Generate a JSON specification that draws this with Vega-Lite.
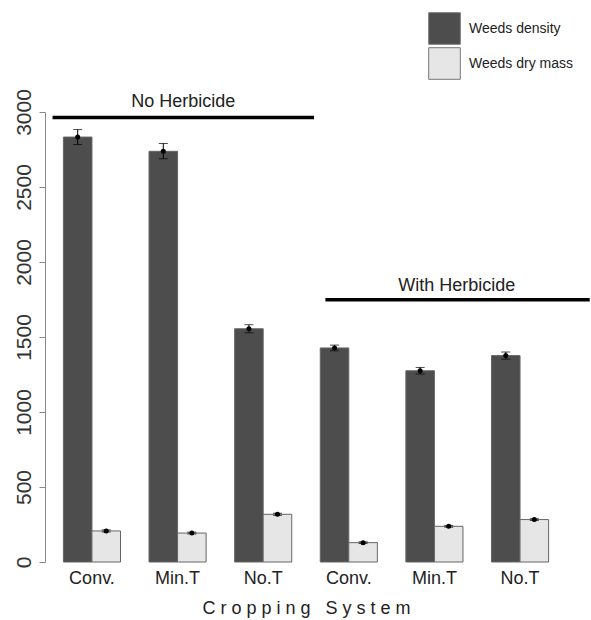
{
  "$schema": "https://vega.github.io/schema/vega-lite/v6.json",
  "width": 522,
  "height": 450,
  "autosize": {"type": "none"},
  "padding": {"left": 45, "top": 112, "right": 24, "bottom": 58},
  "config": {"view": {"stroke": null}, "font": "Liberation Sans"},
  "datasets": {
    "bars": [
      {"group": "No Herbicide: Conv.", "measure": "Weeds density", "value": 2833, "lo": 2783, "hi": 2883},
      {"group": "No Herbicide: Conv.", "measure": "Weeds dry mass", "value": 207, "lo": 200, "hi": 214},
      {"group": "No Herbicide: Min.T", "measure": "Weeds density", "value": 2738, "lo": 2688, "hi": 2790},
      {"group": "No Herbicide: Min.T", "measure": "Weeds dry mass", "value": 193, "lo": 187, "hi": 199},
      {"group": "No Herbicide: No.T", "measure": "Weeds density", "value": 1555, "lo": 1528, "hi": 1582},
      {"group": "No Herbicide: No.T", "measure": "Weeds dry mass", "value": 318, "lo": 311, "hi": 325},
      {"group": "With Herbicide: Conv.", "measure": "Weeds density", "value": 1427, "lo": 1408, "hi": 1446},
      {"group": "With Herbicide: Conv.", "measure": "Weeds dry mass", "value": 129, "lo": 123, "hi": 135},
      {"group": "With Herbicide: Min.T", "measure": "Weeds density", "value": 1275, "lo": 1253, "hi": 1297},
      {"group": "With Herbicide: Min.T", "measure": "Weeds dry mass", "value": 238, "lo": 232, "hi": 244},
      {"group": "With Herbicide: No.T", "measure": "Weeds density", "value": 1376, "lo": 1352, "hi": 1400},
      {"group": "With Herbicide: No.T", "measure": "Weeds dry mass", "value": 283, "lo": 277, "hi": 289}
    ],
    "labels": [
      {"label": "No Herbicide", "start": "No Herbicide: Conv.", "mid": "No Herbicide: Min.T", "end": "No Herbicide: No.T", "y": 2963, "ty": 3067},
      {"label": "With Herbicide", "start": "With Herbicide: Conv.", "mid": "With Herbicide: Min.T", "end": "With Herbicide: No.T", "y": 1749, "ty": 1838}
    ]
  },
  "layer": [
    {
      "data": {"name": "bars"},
      "mark": {"type": "bar", "stroke": "#666", "strokeWidth": 1},
      "encoding": {
        "x": {
          "field": "group", "type": "nominal",
          "scale": {
            "domain": ["No Herbicide: Conv.", "No Herbicide: Min.T", "No Herbicide: No.T", "With Herbicide: Conv.", "With Herbicide: Min.T", "With Herbicide: No.T"],
            "paddingInner": 0.333, "paddingOuter": 0.215
          },
          "title": "C\u00a0r\u00a0o\u00a0p\u00a0p\u00a0i\u00a0n\u00a0g\u00a0\u00a0\u00a0S\u00a0y\u00a0s\u00a0t\u00a0e\u00a0m",
          "axis": {
            "domain": false, "ticks": false, "tickSize": 0, "labelAngle": 0,
            "labelFontSize": 18, "labelPadding": 7, "labelColor": "#222",
            "labelExpr": "split(datum.value, ': ')[1]",
            "titleFontSize": 18, "titlePadding": 12, "titleFontWeight": "normal", "titleColor": "#222"
          }
        },
        "xOffset": {"field": "measure", "type": "nominal", "sort": ["Weeds density", "Weeds dry mass"]},
        "y": {
          "field": "value", "type": "quantitative",
          "scale": {"domain": [0, 3000], "nice": false},
          "title": null,
          "axis": {
            "values": [0, 500, 1000, 1500, 2000, 2500, 3000], "format": "d",
            "grid": false, "labelAngle": 270, "labelAlign": "center", "labelBaseline": "bottom",
            "labelFontSize": 21, "tickSize": 6, "labelPadding": 5,
            "domainColor": "#888", "tickColor": "#888", "labelColor": "#333"
          }
        },
        "color": {
          "field": "measure", "type": "nominal",
          "scale": {"domain": ["Weeds density", "Weeds dry mass"], "range": ["#4d4d4d", "#e6e6e6"]},
          "legend": {
            "orient": "none", "legendX": 383, "legendY": -100, "title": null,
            "symbolType": "square", "symbolSize": 1000, "symbolStrokeColor": "#777", "symbolStrokeWidth": 1,
            "symbolOpacity": 1,
            "rowPadding": -6, "labelFontSize": 14, "labelOffset": 8, "labelColor": "#222", "padding": 0
          }
        }
      }
    },
    {
      "data": {"name": "bars"},
      "mark": {"type": "rule", "color": "black", "strokeWidth": 1},
      "encoding": {
        "x": {"field": "group", "type": "nominal"},
        "xOffset": {"field": "measure", "type": "nominal", "sort": ["Weeds density", "Weeds dry mass"]},
        "y": {"field": "lo", "type": "quantitative"},
        "y2": {"field": "hi"}
      }
    },
    {
      "data": {"name": "bars"},
      "mark": {"type": "tick", "color": "black", "size": 9, "thickness": 1},
      "encoding": {
        "x": {"field": "group", "type": "nominal"},
        "xOffset": {"field": "measure", "type": "nominal", "sort": ["Weeds density", "Weeds dry mass"]},
        "y": {"field": "lo", "type": "quantitative"}
      }
    },
    {
      "data": {"name": "bars"},
      "mark": {"type": "tick", "color": "black", "size": 9, "thickness": 1},
      "encoding": {
        "x": {"field": "group", "type": "nominal"},
        "xOffset": {"field": "measure", "type": "nominal", "sort": ["Weeds density", "Weeds dry mass"]},
        "y": {"field": "hi", "type": "quantitative"}
      }
    },
    {
      "data": {"name": "bars"},
      "mark": {"type": "point", "filled": true, "color": "black", "size": 25, "opacity": 1},
      "encoding": {
        "x": {"field": "group", "type": "nominal"},
        "xOffset": {"field": "measure", "type": "nominal", "sort": ["Weeds density", "Weeds dry mass"]},
        "y": {"field": "value", "type": "quantitative"}
      }
    },
    {
      "data": {"name": "labels"},
      "transform": [{"filter": "datum.label == 'No Herbicide'"}],
      "mark": {"type": "rule", "color": "black", "strokeWidth": 3.5},
      "encoding": {
        "x": {"field": "start", "type": "nominal", "bandPosition": -0.19},
        "x2": {"field": "end", "bandPosition": 1.39},
        "y": {"field": "y", "type": "quantitative"}
      }
    },
    {
      "data": {"name": "labels"},
      "transform": [{"filter": "datum.label == 'With Herbicide'"}],
      "mark": {"type": "rule", "color": "black", "strokeWidth": 3.5},
      "encoding": {
        "x": {"field": "start", "type": "nominal", "bandPosition": 0.09},
        "x2": {"field": "end", "bandPosition": 1.72},
        "y": {"field": "y", "type": "quantitative"}
      }
    },
    {
      "data": {"name": "labels"},
      "transform": [{"filter": "datum.label == 'No Herbicide'"}],
      "mark": {"type": "text", "fontSize": 18, "color": "#222", "baseline": "middle", "align": "center"},
      "encoding": {
        "x": {"field": "mid", "type": "nominal", "bandPosition": 0.6},
        "y": {"field": "ty", "type": "quantitative"},
        "text": {"field": "label"}
      }
    },
    {
      "data": {"name": "labels"},
      "transform": [{"filter": "datum.label == 'With Herbicide'"}],
      "mark": {"type": "text", "fontSize": 18, "color": "#222", "baseline": "middle", "align": "center"},
      "encoding": {
        "x": {"field": "mid", "type": "nominal", "bandPosition": 0.89},
        "y": {"field": "ty", "type": "quantitative"},
        "text": {"field": "label"}
      }
    }
  ]
}
